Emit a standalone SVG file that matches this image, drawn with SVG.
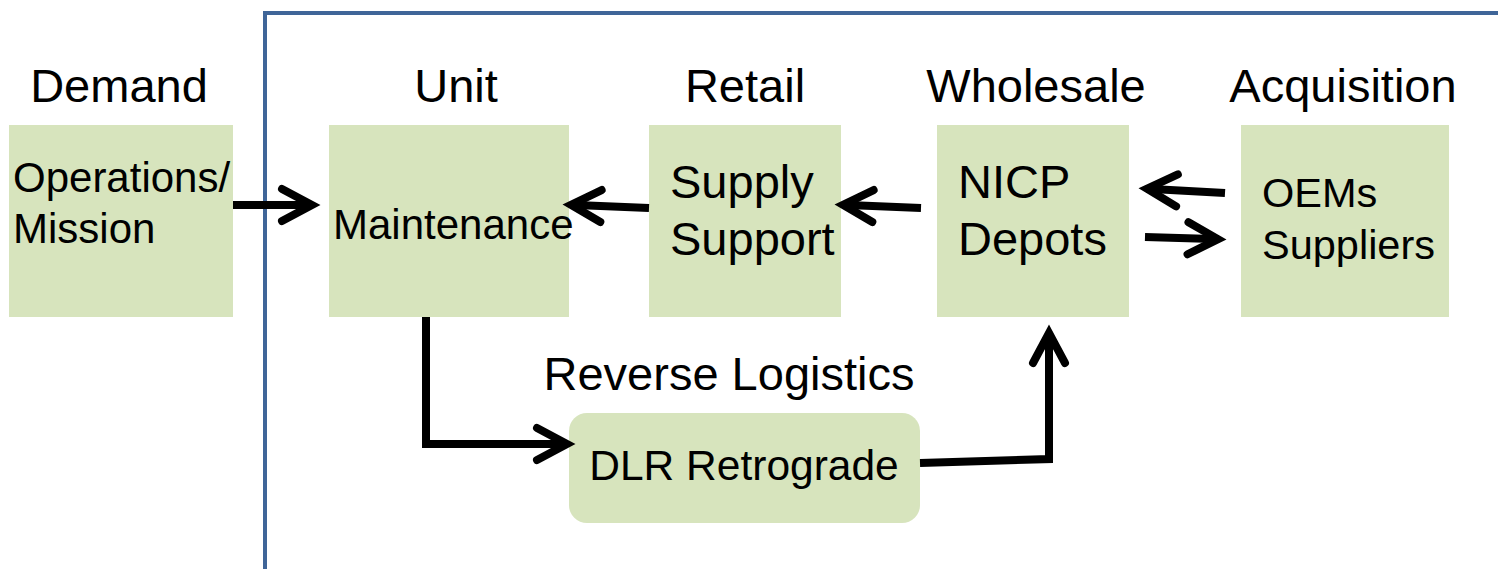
<svg xmlns="http://www.w3.org/2000/svg" width="1498" height="569" viewBox="0 0 1498 569">
<style>
.box{fill:#d7e4bd}
.hdr{font-family:"Liberation Sans",Arial,sans-serif;font-size:47px;fill:#000}
.t{font-family:"Liberation Sans",Arial,sans-serif;fill:#000}
.conn{fill:none;stroke:#000;stroke-width:8;stroke-linejoin:miter}
</style>
<defs>
<marker id="ah" markerUnits="userSpaceOnUse" viewBox="-40 -22 48 44" markerWidth="48" markerHeight="44" refX="-5" refY="0" orient="auto" overflow="visible">
<path d="M-30 -16 L0 0 L-30 16" fill="none" stroke="#000" stroke-width="8" stroke-linecap="round" stroke-linejoin="miter"/>
</marker>
</defs>
<rect width="1498" height="569" fill="#fff"/>
<g id="frame">
<path d="M265 569 V13 H1498" fill="none" stroke="#3f6598" stroke-width="4"/>
</g>
<g id="headers">
<text class="hdr" x="119" y="102" text-anchor="middle">Demand</text>
<text class="hdr" x="456" y="102" text-anchor="middle">Unit</text>
<text class="hdr" x="745" y="102" text-anchor="middle">Retail</text>
<text class="hdr" x="1036" y="102" text-anchor="middle">Wholesale</text>
<text class="hdr" x="1343" y="102" text-anchor="middle">Acquisition</text>
<text class="hdr" x="729" y="390" text-anchor="middle" font-size="48">Reverse Logistics</text>
</g>
<g id="node-operations">
<rect class="box" x="9" y="125" width="224" height="192"/>
<text class="t" font-size="42" x="13" y="192">Operations/</text>
<text class="t" font-size="42" x="13" y="243">Mission</text>
</g>
<g id="node-maintenance">
<rect class="box" x="329" y="125" width="240" height="192"/>
<text class="t" font-size="42" x="333" y="239">Maintenance</text>
</g>
<g id="node-supply">
<rect class="box" x="649" y="125" width="192" height="192"/>
<text class="t" font-size="47" x="670" y="198">Supply</text>
<text class="t" font-size="47" x="670" y="255">Support</text>
</g>
<g id="node-nicp">
<rect class="box" x="937" y="125" width="192" height="192"/>
<text class="t" font-size="47" x="958" y="198">NICP</text>
<text class="t" font-size="47" x="958" y="255">Depots</text>
</g>
<g id="node-oems">
<rect class="box" x="1241" y="125" width="208" height="192"/>
<text class="t" font-size="41.5" x="1262" y="207">OEMs</text>
<text class="t" font-size="41.5" x="1262" y="259">Suppliers</text>
</g>
<g id="node-dlr">
<rect class="box" x="569" y="413" width="351" height="110" rx="18"/>
<text class="t" font-size="42.5" x="744" y="480" text-anchor="middle">DLR Retrograde</text>
</g>
<g id="connectors">
<path class="conn" d="M233 205 H307" marker-end="url(#ah)"/>
<path class="conn" d="M649 208 L576 205" marker-end="url(#ah)"/>
<path class="conn" d="M921 208 L848 205" marker-end="url(#ah)"/>
<path class="conn" d="M1225 193 L1152 189" marker-end="url(#ah)"/>
<path class="conn" d="M1145 237 L1213 239" marker-end="url(#ah)"/>
<path class="conn" d="M426 317 V444 H562" marker-end="url(#ah)"/>
<path class="conn" d="M920 463 L1049 459 V338" marker-end="url(#ah)"/>
</g>
</svg>
